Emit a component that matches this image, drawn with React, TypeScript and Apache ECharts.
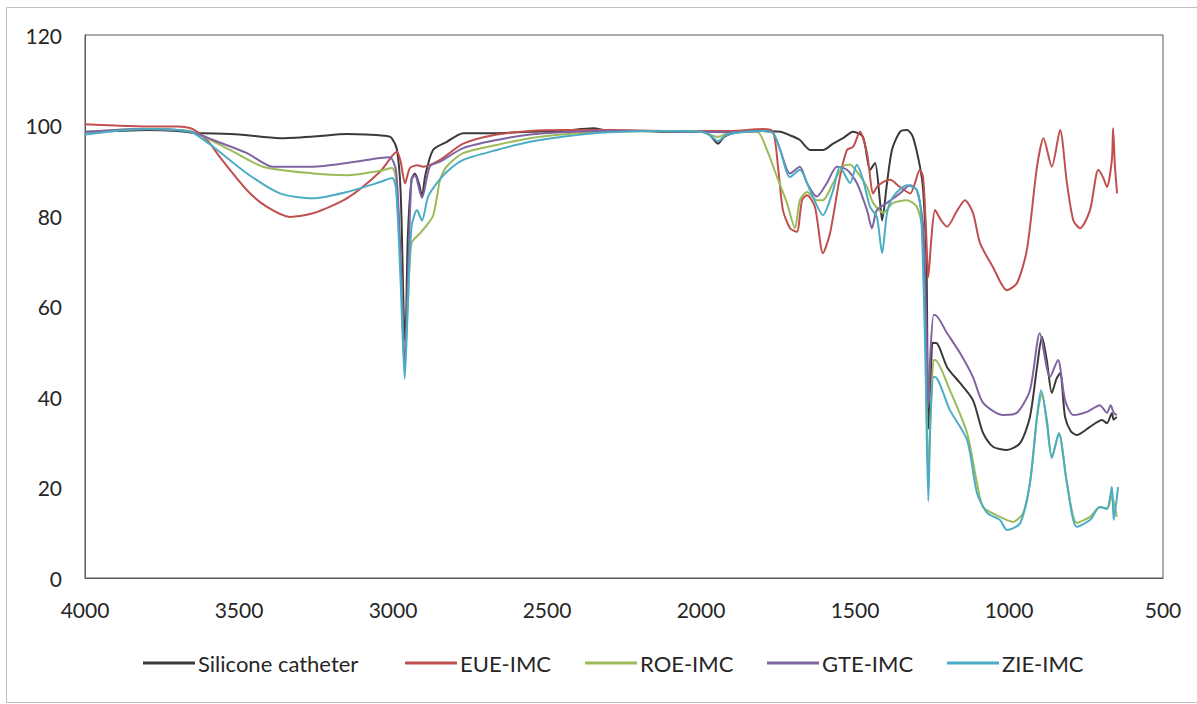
import React, { useEffect, useRef } from "react";
import * as echarts from "echarts";

const seriesNames = ["Silicone catheter", "EUE-IMC", "ROE-IMC", "GTE-IMC", "ZIE-IMC"];
const seriesColors = ["#3a3a3a", "#c0504d", "#9bbb59", "#8064a2", "#4bacc6"];
const xTicks = [500, 1000, 1500, 2000, 2500, 3000, 3500, 4000];
const yTicks = [0, 20, 40, 60, 80, 100, 120];

const siliconeCatheter: [number, number][] = [
  [4000, 98.6], [3900, 98.8], [3800, 99], [3700, 98.8], [3650, 98.4], [3500, 98], [3367, 97.2], [3250, 97.6],
  [3150, 98.1], [3020, 97.7], [3005, 97.3], [2987, 94.6], [2975, 85], [2965, 58], [2960, 52], [2952, 75],
  [2940, 88], [2929, 89.4], [2915, 87], [2906, 84.3], [2895, 89], [2870, 94.6], [2825, 96.4], [2772, 98.3],
  [2685, 98.3], [2555, 98.6], [2450, 98.8], [2350, 99.4], [2300, 98.8], [2200, 98.8], [2100, 98.6], [2000, 98.6],
  [1970, 97.8], [1945, 96], [1925, 97.5], [1896, 98.3], [1850, 98.8], [1800, 98.8], [1743, 98.6], [1710, 97.8],
  [1679, 96.8], [1646, 94.6], [1604, 94.6], [1571, 96], [1539, 97.2], [1506, 98.6], [1474, 97.5], [1451, 90.2],
  [1435, 91.7], [1420, 84], [1412, 79], [1396, 87.3], [1380, 94.6], [1354, 98.6], [1331, 99], [1312, 97.5],
  [1289, 90.9], [1279, 86], [1268, 70], [1262, 33], [1255, 40], [1248, 52], [1234, 51.9], [1201, 46.6],
  [1159, 43.1], [1117, 39.3], [1084, 32], [1052, 29], [1007, 28.3], [964, 29.8], [932, 35.6], [909, 46.6],
  [893, 53.3], [877, 48], [861, 40.9], [846, 44], [834, 45.3], [818, 35.6], [800, 32.5], [780, 31.6],
  [737, 33.4], [698, 34.9], [682, 34.2], [666, 36.4], [660, 35], [650, 35.6],
];

const eueImc: [number, number][] = [
  [4000, 100.3], [3900, 100], [3800, 99.8], [3700, 99.8], [3650, 99.2], [3600, 96.5], [3562, 93], [3474, 85.7],
  [3409, 82], [3334, 79.8], [3260, 80.6], [3150, 83.9], [3042, 89.8], [3000, 93.5], [2987, 94.2], [2975, 92],
  [2961, 87.2], [2945, 90.6], [2920, 91.2], [2902, 90.9], [2847, 92.4], [2772, 96], [2663, 98], [2555, 98.8],
  [2450, 99], [2300, 99], [2100, 98.8], [2000, 98.8], [1900, 98.8], [1800, 99.2], [1766, 98.6], [1750, 90.9],
  [1734, 81.3], [1711, 77.3], [1689, 76.5], [1672, 83.5], [1656, 84.6], [1630, 82], [1604, 71.8], [1581, 76.2],
  [1549, 88.6], [1526, 94.6], [1506, 95.3], [1484, 98.6], [1461, 93.9], [1441, 85], [1429, 86.4], [1409, 87.5],
  [1386, 88], [1354, 86.4], [1321, 85], [1289, 90.2], [1279, 88.6], [1270, 78], [1262, 66.5], [1252, 75],
  [1240, 81.3], [1220, 79], [1201, 77.6], [1170, 81], [1143, 83.5], [1117, 80.7], [1094, 74], [1052, 68.7],
  [1007, 63.6], [974, 65.2], [942, 72.5], [909, 90.9], [888, 97.2], [861, 90.9], [834, 99], [812, 87.3],
  [791, 79], [769, 77.3], [737, 81.3], [710, 90.2], [695, 88.6], [682, 86.4], [666, 92.4], [662, 99.4],
  [656, 90.9], [649, 85],
];

const roeImc: [number, number][] = [
  [4000, 98.5], [3900, 99], [3800, 99.2], [3700, 99], [3650, 98.6], [3584, 96.5], [3529, 94.6], [3422, 90.9],
  [3260, 89.4], [3150, 89], [3042, 90], [3003, 90.6], [2990, 88], [2975, 70], [2962, 48], [2952, 60],
  [2940, 74], [2912, 76.2], [2890, 78], [2870, 80], [2857, 84.3], [2847, 88], [2825, 91], [2772, 93.9],
  [2663, 95.7], [2555, 97.2], [2450, 98], [2300, 98.6], [2100, 98.8], [2000, 98.6], [1945, 97.5], [1900, 98.5],
  [1818, 98.6], [1786, 94.6], [1753, 88.6], [1721, 82.9], [1695, 77.3], [1679, 83.5], [1656, 85.3], [1624, 83.5],
  [1604, 83.5], [1571, 87.3], [1539, 90.9], [1516, 91.3], [1494, 89.8], [1461, 86.4], [1441, 82.9], [1409, 80.7],
  [1376, 82.9], [1331, 83.5], [1299, 82], [1279, 76.2], [1270, 50], [1262, 22], [1255, 35], [1245, 48.2],
  [1240, 48.2], [1192, 41.5], [1136, 32], [1104, 21], [1084, 15.7], [1029, 13.5], [987, 12.4], [954, 14.4],
  [932, 21], [909, 35.6], [893, 40.9], [877, 34], [861, 26.7], [838, 32], [812, 21], [780, 12.2],
  [737, 13.5], [705, 15.7], [682, 15.3], [666, 18], [650, 13.5],
];

const gteImc: [number, number][] = [
  [4000, 98.5], [3900, 99], [3800, 99.2], [3700, 99], [3650, 98.5], [3584, 96.8], [3474, 93.9], [3390, 90.9],
  [3260, 90.9], [3150, 91.7], [3042, 92.8], [3010, 93], [2990, 90], [2975, 70], [2962, 46], [2952, 65],
  [2940, 88], [2929, 89], [2906, 84], [2880, 91], [2847, 92], [2772, 95], [2663, 96.8], [2555, 98],
  [2450, 98.5], [2300, 98.8], [2100, 98.8], [2000, 98.6], [1900, 98.5], [1800, 98.8], [1766, 98.3], [1743, 94.6],
  [1711, 89.4], [1679, 90.9], [1656, 87.3], [1624, 84.3], [1591, 87.3], [1559, 90.9], [1526, 90.2], [1494, 87.3],
  [1461, 81.3], [1445, 77.3], [1429, 81.3], [1396, 82.9], [1354, 85], [1321, 86.8], [1299, 85.7], [1279, 78],
  [1268, 55], [1262, 38], [1255, 50], [1245, 58.1], [1240, 58.1], [1201, 54.1], [1159, 49.7], [1117, 44.4],
  [1084, 38.7], [1019, 36], [974, 36.5], [932, 41.5], [900, 54.1], [867, 44.4], [841, 48.2], [818, 39.3],
  [791, 36], [747, 36.7], [705, 38.2], [682, 36.5], [670, 38.2], [660, 36.5], [650, 36],
];

const zieImc: [number, number][] = [
  [4000, 98], [3900, 98.8], [3800, 99.2], [3700, 99], [3650, 98.4], [3584, 95.3], [3474, 89.4], [3367, 85],
  [3260, 83.9], [3150, 85.3], [3042, 87.5], [3003, 88.4], [2990, 86], [2975, 65], [2962, 44], [2952, 60],
  [2940, 77.6], [2922, 81.3], [2906, 79], [2886, 84.3], [2857, 87.3], [2825, 89.8], [2772, 92.4], [2663, 94.6],
  [2555, 96.4], [2450, 97.5], [2300, 98.5], [2100, 98.8], [2000, 98.6], [1970, 97.8], [1945, 96.5], [1920, 97.8],
  [1896, 98.3], [1800, 98.8], [1766, 98.3], [1743, 94.6], [1711, 88.6], [1679, 90.2], [1646, 85.7], [1604, 80.2],
  [1571, 85.7], [1549, 90.9], [1516, 87.3], [1494, 91.3], [1474, 88], [1451, 82], [1429, 79.8], [1412, 71.8],
  [1396, 80.7], [1376, 84.3], [1331, 86.8], [1299, 85.7], [1285, 80], [1272, 50], [1262, 17], [1255, 35],
  [1245, 44.4], [1240, 44.4], [1192, 37.1], [1136, 30.5], [1104, 18.8], [1071, 14.4], [1029, 12.8], [1007, 10.6],
  [964, 12.1], [932, 21], [909, 35.6], [896, 41.5], [877, 34.9], [861, 26.5], [838, 32], [812, 21],
  [780, 11.3], [737, 12.8], [705, 15.7], [682, 15.3], [666, 20.1], [660, 12.8], [646, 20.1],
];

const allData = [siliconeCatheter, eueImc, roeImc, gteImc, zieImc];
const legendLefts = [143, 405, 585, 767, 947];

export default function App() {
  const ref = useRef<HTMLDivElement>(null);
  useEffect(() => {
    if (!ref.current) return;
    const chart = echarts.init(ref.current, null, { renderer: "svg" });
    const font = "Lato, 'Open Sans', sans-serif";
    chart.setOption({
      animation: false,
      backgroundColor: "#ffffff",
      textStyle: { fontFamily: font },
      graphic: [
        {
          type: "rect",
          shape: { x: 6.5, y: 7.5, width: 1196, height: 695 },
          style: { fill: "none", stroke: "#bfbfbf", lineWidth: 1 },
          silent: true,
        },
      ],
      grid: {
        left: 85,
        top: 35,
        right: 34,
        bottom: 126,
        show: true,
        borderColor: "#595959",
        borderWidth: 1,
      },
      legend: seriesNames.map((name, i) => ({
        data: [name],
        left: legendLefts[i],
        top: 652,
        padding: 0,
        icon: "rect",
        itemWidth: 52,
        itemHeight: 3,
        textStyle: { fontFamily: font, fontSize: 22, color: "#262626", padding: [0, 0, 0, -2] },
      })),
      xAxis: {
        type: "value",
        min: 500,
        max: 4000,
        interval: 500,
        inverse: true,
        splitLine: { show: false },
        axisTick: { show: false },
        axisLine: { show: true, lineStyle: { color: "#595959", width: 1 } },
        axisLabel: {
          fontFamily: font,
          fontSize: 21,
          color: "#262626",
          margin: 21,
          showMinLabel: true,
          showMaxLabel: true,
          customValues: xTicks,
          formatter: (v: number) => String(v),
        },
      },
      yAxis: {
        type: "value",
        min: 0,
        max: 120,
        interval: 20,
        splitLine: { show: false },
        axisTick: { show: false },
        axisLine: { show: true, lineStyle: { color: "#595959", width: 1 } },
        axisLabel: {
          fontFamily: font,
          fontSize: 21,
          color: "#262626",
          margin: 23,
          customValues: yTicks,
          formatter: (v: number) => String(v),
        },
      },
      series: seriesNames.map((name, i) => ({
        name,
        type: "line",
        data: allData[i],
        showSymbol: false,
        symbol: "none",
        smooth: 0.25,
        lineStyle: { color: seriesColors[i], width: 2 },
        itemStyle: { color: seriesColors[i] },
      })),
    });
    return () => chart.dispose();
  }, []);
  return (
    <div
      ref={ref}
      style={{ position: "fixed", left: 0, top: 0, width: 1197, height: 704 }}
    />
  );
}
